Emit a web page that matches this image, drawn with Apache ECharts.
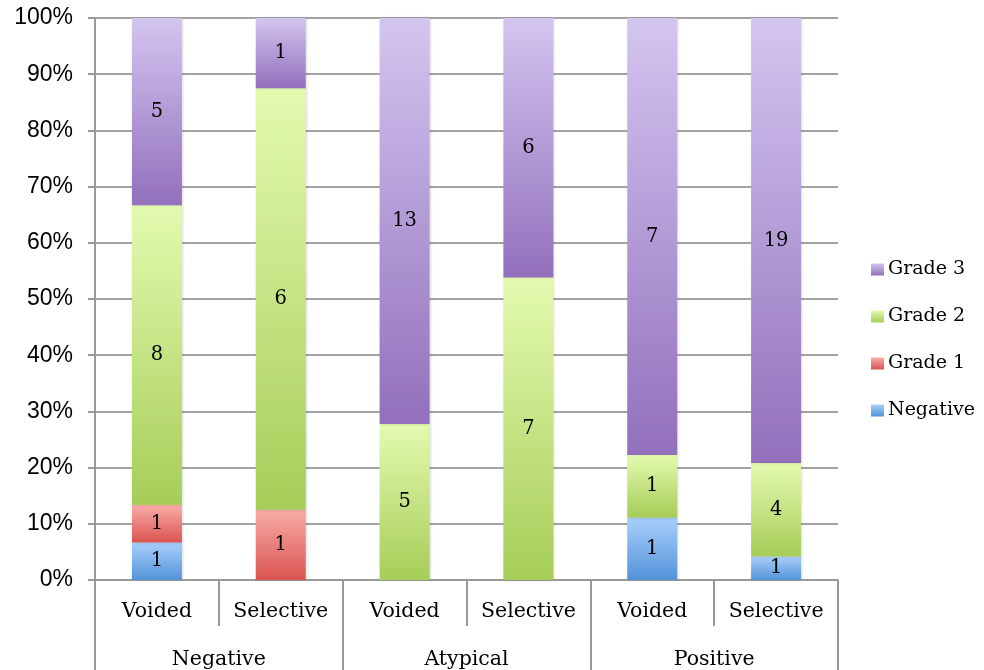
<!DOCTYPE html>
<html>
<head>
<meta charset="utf-8">
<script src="https://cdn.jsdelivr.net/npm/echarts@6/dist/echarts.min.js"></script>
<style>
  html, body { margin: 0; padding: 0; background: #fff; }
  #main { width: 984px; height: 670px; }
</style>
</head>
<body>
<div id="main"></div>
<script>
// categories
const subCats = ['Voided', 'Selective', 'Voided', 'Selective', 'Voided', 'Selective'];
const groups = ['Negative', 'Atypical', 'Positive'];
// counts per bar (0 = no segment)
const negative = [1, 0, 0, 0, 1, 1];
const grade1 = [1, 1, 0, 0, 0, 0];
const grade2 = [8, 6, 5, 7, 1, 4];
const grade3 = [5, 1, 13, 6, 7, 19];
const yTicks = [0, 10, 20, 30, 40, 50, 60, 70, 80, 90, 100];

const chart = echarts.init(document.getElementById('main'));

const totals = subCats.map((c, i) => negative[i] + grade1[i] + grade2[i] + grade3[i]);

// turn counts into percent of bar, keep count for label
function toPct(arr) {
  return arr.map((v, i) => v ? { value: v / totals[i] * 100, count: v } : null);
}

function grad(top, bottom) {
  return new echarts.graphic.LinearGradient(0, 0, 0, 1, [
    { offset: 0, color: top },
    { offset: 1, color: bottom }
  ]);
}

const serif = '"DejaVu Serif", "Liberation Serif", serif';

function mkSeries(name, arr, top, bottom) {
  return {
    name: name,
    type: 'bar',
    stack: 'all',
    barWidth: 50,
    data: toPct(arr),
    itemStyle: {
      color: grad(top, bottom),
      shadowColor: 'rgba(0,0,0,0.18)',
      shadowBlur: 3,
      shadowOffsetX: 1
    },
    label: {
      show: true,
      position: 'inside',
      fontFamily: serif,
      fontSize: 19.5,
      color: '#000',
      formatter: p => p.data ? p.data.count : ''
    }
  };
}

const option = {
  animation: false,
  grid: { left: 95, right: 146, top: 18, bottom: 89, containLabel: false },
  legend: {
    orient: 'vertical',
    left: 866,
    top: 253,
    itemWidth: 13,
    itemHeight: 12,
    itemGap: 24,
    icon: 'rect',
    data: ['Grade 3', 'Grade 2', 'Grade 1', 'Negative'],
    textStyle: { fontFamily: serif, fontSize: 19, color: '#000', padding: [0, 0, 0, -1], lineHeight: 23 }
  },
  xAxis: [{
    type: 'category',
    data: subCats,
    position: 'bottom',
    axisLine: { show: true, lineStyle: { color: '#999', width: 2 } },
    axisTick: { show: true, length: 46, interval: 0, lineStyle: { color: '#999', width: 2 } },
    axisLabel: { margin: 21, fontFamily: serif, fontSize: 20.5, color: '#000', interval: 0 }
  }, {
    type: 'category',
    data: groups,
    position: 'bottom',
    offset: 46,
    axisLine: { show: false },
    axisTick: { show: true, length: 50, interval: 0, lineStyle: { color: '#999', width: 2 } },
    axisLabel: { margin: 23, fontFamily: serif, fontSize: 20.5, color: '#000', interval: 0 }
  }],
  yAxis: {
    type: 'value',
    min: 0,
    max: 100,
    interval: 10,
    axisLine: { show: true, lineStyle: { color: '#999', width: 2 } },
    axisTick: { show: true, inside: false, length: 7, lineStyle: { color: '#999', width: 2 } },
    splitLine: { show: true, lineStyle: { color: '#a3a3a3', width: 2 } },
    axisLabel: {
      margin: 22,
      fontFamily: '"Liberation Sans", Arial, sans-serif',
      fontSize: 23,
      color: '#000',
      customValues: yTicks,
      formatter: v => v + '%'
    }
  },
  series: [
    mkSeries('Negative', negative, '#a9cffb', '#5493da'),
    mkSeries('Grade 1', grade1, '#f9aca8', '#d95450'),
    mkSeries('Grade 2', grade2, '#e4fab0', '#a6cd58'),
    mkSeries('Grade 3', grade3, '#d4c5f0', '#9270bc')
  ]
};

chart.setOption(option);
</script>
</body>
</html>
